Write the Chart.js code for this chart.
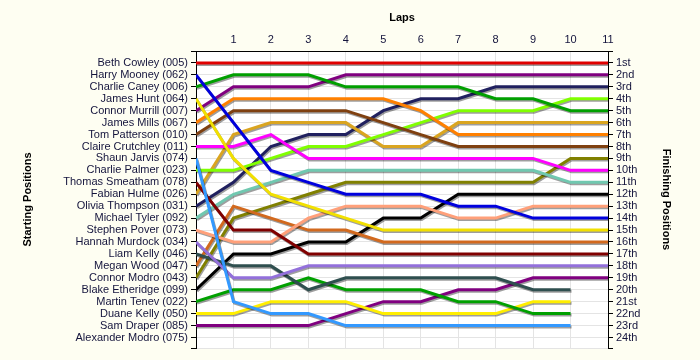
<!DOCTYPE html>
<html>
<head>
<meta charset="utf-8">
<script src="https://cdn.jsdelivr.net/npm/chart.js@4/dist/chart.umd.min.js"></script>
<style>
   body { margin: 0; background: #fefef2; }
   canvas { display: block; }
</style>
</head>
<body>
<canvas id="lapChart" width="700" height="360"></canvas>
<script>

// Race data: position of each driver after every lap (lap 0 = grid)
// ----------------------------------------------
const laps = [ 0, 1, 2, 3, 4, 5, 6, 7, 8, 9, 10, 11 ];

const starters = [
   "Beth Cowley (005)", "Harry Mooney (062)", "Charlie Caney (006)", "James Hunt (064)",
   "Connor Murrill (007)", "James Mills (067)", "Tom Patterson (010)", "Claire Crutchley (011)",
   "Shaun Jarvis (074)", "Charlie Palmer (023)", "Thomas Smeatham (078)", "Fabian Hulme (026)",
   "Olivia Thompson (031)", "Michael Tyler (092)", "Stephen Pover (073)", "Hannah Murdock (034)",
   "Liam Kelly (046)", "Megan Wood (047)", "Connor Modro (043)", "Blake Etheridge (099)",
   "Martin Tenev (022)", "Duane Kelly (050)", "Sam Draper (085)", "Alexander Modro (075)"
];

const finishLabels = [
   "1st", "2nd", "3rd", "4th", "5th", "6th", "7th", "8th", "9th", "10th", "11th", "12th",
   "13th", "14th", "15th", "16th", "17th", "18th", "19th", "20th", "21st", "22nd", "23rd", "24th"
];

const pos005 = [ 1, 1, 1, 1, 1, 1, 1, 1, 1, 1, 1, 1 ];
const pos062 = [ 2, 6, 10, 11, 12, 12, 12, 13, 13, 14, 14, 14 ];
const pos006 = [ 3, 2, 2, 2, 3, 3, 3, 3, 4, 4, 5, 5 ];
const pos064 = [ 4, 9, 12, 13, 14, 15, 15, 15, 15, 15, 15, 15 ];
const pos007 = [ 5, 3, 3, 3, 2, 2, 2, 2, 2, 2, 2, 2 ];
const pos067 = [ 6, 4, 4, 4, 4, 4, 5, 7, 7, 7, 7, 7 ];
const pos010 = [ 7, 5, 5, 5, 5, 6, 7, 8, 8, 8, 8, 8 ];
const pos011 = [ 8, 8, 7, 9, 9, 9, 9, 9, 9, 9, 10, 10 ];
const pos074 = [ 9, 21, 22, 22, 23, 23, 23, 23, 23, 23, 23, null ];
const pos023 = [ 10, 10, 9, 8, 8, 7, 6, 5, 5, 5, 4, 4 ];
const pos078 = [ 11, 15, 15, 17, 17, 17, 17, 17, 17, 17, 17, 17 ];
const pos026 = [ 12, 7, 6, 6, 6, 8, 8, 6, 6, 6, 6, 6 ];
const pos031 = [ 13, 11, 8, 7, 7, 5, 4, 4, 3, 3, 3, 3 ];
const pos092 = [ 14, 12, 11, 10, 10, 10, 10, 10, 10, 10, 11, 11 ];
const pos073 = [ 15, 16, 16, 14, 13, 13, 13, 14, 14, 13, 13, 13 ];
const pos034 = [ 16, 19, 19, 18, 18, 18, 18, 18, 18, 18, 18, 18 ];
const pos046 = [ 17, 18, 18, 20, 19, 19, 19, 19, 19, 20, 20, null ];
const pos047 = [ 18, 13, 14, 15, 15, 16, 16, 16, 16, 16, 16, 16 ];
const pos043 = [ 19, 14, 13, 12, 11, 11, 11, 11, 11, 11, 9, 9 ];
const pos099 = [ 20, 17, 17, 16, 16, 14, 14, 12, 12, 12, 12, 12 ];
const pos022 = [ 21, 20, 20, 19, 20, 20, 20, 21, 21, 22, 22, null ];
const pos050 = [ 22, 22, 21, 21, 21, 22, 22, 22, 22, 21, 21, null ];
const pos085 = [ 23, 23, 23, 23, 22, 21, 21, 20, 20, 19, 19, 19 ];
const pos075 = [ null, null, null, null, null, null, null, null, null, null, null, null ];

const racePositions = [
   pos005, pos062, pos006, pos064, pos007, pos067, pos010, pos011,
   pos074, pos023, pos078, pos026, pos031, pos092, pos073, pos034,
   pos046, pos047, pos043, pos099, pos022, pos050, pos085, pos075
];

const lineColors = [
   "#e00000", "#0000dd", "#009f00", "#f2e000", "#800080", "#ff8000", "#7f4010", "#ff00ff",
   "#3399ff", "#80ff00", "#800000", "#daa520", "#20205f", "#70c8b0", "#ffa07a", "#9370db",
   "#2f4f4f", "#d2691e", "#808000", "#000000", "#00a000", "#ffee00", "#800080", "#999999"
];

const textColor = "#14143c";
const gridColor = "#e4e4e4";
const yMax = 24.88;


// Background (ivory page, white plot) and line shadows
// ----------------------------------------------
const backdrop = {
   id: "backdrop",
   beforeDraw( chart ) {
      const { ctx, chartArea: a } = chart;
      ctx.save();
      ctx.fillStyle = "#fefef2";
      ctx.fillRect( 0, 0, chart.width, chart.height );
      ctx.fillStyle = "#ffffff";
      ctx.fillRect( a.left, a.top, a.right - a.left, a.bottom - a.top );
      ctx.restore();
   }
};

const lineShadow = {
   id: "lineShadow",
   beforeDatasetDraw( chart ) {
      const ctx = chart.ctx;
      ctx.save();
      ctx.shadowColor = "rgba(0,0,0,0.38)";
      ctx.shadowOffsetX = 1;
      ctx.shadowOffsetY = 1.5;
      ctx.shadowBlur = 0;
   },
   afterDatasetDraw( chart ) {
      chart.ctx.restore();
   }
};

const yTicks = scale => {
   const t = [ { value: 0 } ];
   for ( let i = 1; i <= starters.length; i++ ) t.push( { value: i } );
   t.push( { value: yMax } );
   scale.ticks = t;
};

const font = { family: "'Liberation Sans', Arial, sans-serif", size: 11 };
const titleFont = { family: "'Liberation Sans', Arial, sans-serif", size: 11, weight: "bold" };

new Chart( document.getElementById( "lapChart" ), {
   type: "line",
   data: {
      datasets: racePositions.map( ( row, i ) => ({
         label: starters[i],
         data: row.map( ( p, k ) => ({ x: laps[k], y: p }) ),
         borderColor: lineColors[i],
         backgroundColor: lineColors[i],
         borderWidth: 3,
         pointRadius: 0,
         tension: 0,
         spanGaps: false,
         yAxisID: "y"
      }))
   },
   plugins: [ backdrop, lineShadow ],
   options: {
      responsive: false,
      animation: false,
      layout: { padding: { left: 8, right: 8, top: 4, bottom: 12 } },
      plugins: {
         legend: { display: false },
         tooltip: { enabled: false }
      },
      scales: {
         x: {
            type: "linear",
            position: "top",
            min: 0,
            max: 11,
            afterFit: s => { s.height = 47; },
            title: { display: true, text: "Laps", color: "#000", font: titleFont, padding: { top: 7, bottom: 0 } },
            border: { color: "#000", width: 1 },
            grid: { color: gridColor, drawTicks: false },
            ticks: {
               stepSize: 1,
               padding: 4,
               color: textColor,
               font: font,
               maxRotation: 0,
               callback: v => v === 0 ? "" : String( v )
            }
         },
         y: {
            type: "linear",
            position: "left",
            reverse: true,
            min: 0,
            max: yMax,
            afterBuildTicks: yTicks,
            afterFit: s => { s.width = 188; },
            title: { display: true, text: "Starting Positions", color: "#000", font: titleFont, padding: { top: 13, bottom: 0 } },
            border: { color: "#000", width: 1 },
            grid: { color: gridColor, tickColor: "#000", tickLength: 5 },
            ticks: {
               autoSkip: false,
               padding: 3,
               color: textColor,
               font: font,
               callback: v => Number.isInteger( v ) && v >= 1 ? starters[v - 1] : ""
            }
         },
         y2: {
            type: "linear",
            position: "right",
            reverse: true,
            min: 0,
            max: yMax,
            afterBuildTicks: yTicks,
            afterFit: s => { s.width = 84; },
            title: { display: true, text: "Finishing Positions", color: "#000", font: titleFont, padding: { top: 19, bottom: 0 } },
            border: { color: "#000", width: 1 },
            grid: { drawOnChartArea: false, tickColor: "#000", tickLength: 5 },
            ticks: {
               autoSkip: false,
               padding: 3,
               color: textColor,
               font: font,
               callback: v => Number.isInteger( v ) && v >= 1 ? finishLabels[v - 1] : ""
            }
         }
      }
   }
});
</script>
</body>
</html>
